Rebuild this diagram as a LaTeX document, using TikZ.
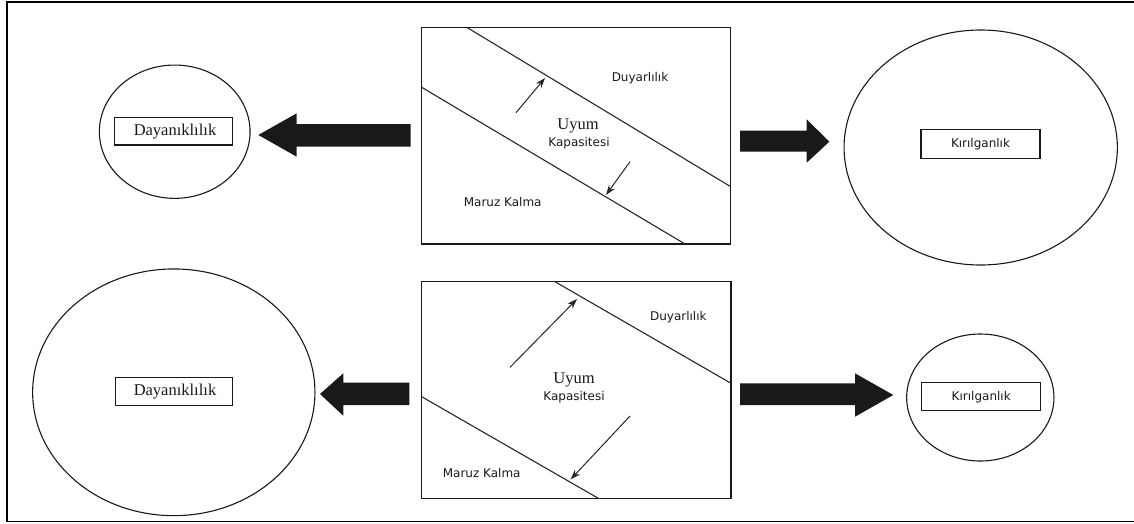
\documentclass[tikz,border=0pt]{standalone}
\usepackage{fontspec}
\setmainfont{Liberation Serif}
\newfontfamily\vsans{DejaVu Sans}
\usetikzlibrary{shapes.geometric,arrows.meta}
\tikzset{
  oval/.style={ellipse, draw=black!90, line width=1.1pt, inner sep=0pt},
  lbl/.style={rectangle, draw=black!90, line width=1.1pt, inner sep=0pt},
  frm/.style={draw=black!90, line width=1.5pt},
  band/.style={draw=black!85, line width=1.1pt},
  thin/.style={draw=black!85, line width=1pt, -{Stealth[length=10pt,width=7pt]}},
  blk/.style={fill=black!90, draw=none},
  sanstxt/.style={font=\vsans\fontsize{12}{14}\selectfont, text=black!90, inner sep=0pt},
  seriftxt/.style={font=\fontsize{16.5}{18}\selectfont, text=black!90, inner sep=0pt},
  lbltxt/.style={font=\fontsize{16.5}{18}\selectfont, text=black!90, inner sep=0pt}
}
\begin{document}
\begin{tikzpicture}[x=1pt,y=-1pt]
\useasboundingbox (0,0) rectangle (1134,523);
% outer frame
\draw[line width=1.6pt] (1136,2) -- (7,2) -- (7,521.5) -- (1136,521.5);

% ===== top row =====
\draw[frm] (421.7,27.3) rectangle (730.7,244);
\coordinate (t1a) at (466.7,27.3); \coordinate (t1b) at (730.7,186.7);
\coordinate (t2a) at (421.7,87.3); \coordinate (t2b) at (685,244);
\draw[band] (t1a) -- (t1b);
\draw[band] (t2a) -- (t2b);
\coordinate (tu1) at (516,112.7); \coordinate (tu2) at (545,78);
\coordinate (td1) at (630,161.7); \coordinate (td2) at (606,195);
\draw[thin] (tu1) -- (tu2);
\draw[thin] (td1) -- (td2);
\node[sanstxt] (tduy) at (640,77.7) {Duyarlılık};
\node[seriftxt] (tuy) at (578,126) {Uyum};
\node[sanstxt] (tkap) at (579,142.7) {Kapasitesi};
\node[sanstxt] (tmar) at (502.7,201.7) {Maruz Kalma};

\node[oval, minimum width=150.7pt, minimum height=133.3pt] (tlE) at (174.7,131.7) {};
\node[lbl, minimum width=118.4pt, minimum height=27.3pt] (tlR) at (173.5,131.3) {};
\node[lbltxt] (tlT) at (175,131.3) {Dayanıklılık};

\node[oval, minimum width=273.3pt, minimum height=235pt] (trE) at (980.7,147.5) {};
\node[lbl, minimum width=119pt, minimum height=29pt] (trR) at (980.5,143.8) {};
\node[sanstxt] (trT) at (980.5,143.8) {Kırılganlık};

\fill[blk] (258.3,135) -- (296.7,113.3) -- (296.7,124) -- (410.7,124) -- (410.7,146.7) -- (296.7,146.7) -- (296.7,156.7) -- cycle;
\fill[blk] (829.3,141.7) -- (806.7,119.3) -- (806.7,130.5) -- (740,130.5) -- (740,151.7) -- (806.7,151.7) -- (806.7,162.7) -- cycle;

% ===== bottom row =====
\draw[frm] (421.7,281.7) rectangle (731,498.3);
\coordinate (b1a) at (555,281.7); \coordinate (b1b) at (731,383.3);
\coordinate (b2a) at (421.7,396.7); \coordinate (b2b) at (598.3,498.3);
\draw[band] (b1a) -- (b1b);
\draw[band] (b2a) -- (b2b);
\coordinate (bu1) at (510,367.3); \coordinate (bu2) at (577,299);
\coordinate (bd1) at (630,416); \coordinate (bd2) at (570.7,479.3);
\draw[thin] (bu1) -- (bu2);
\draw[thin] (bd1) -- (bd2);
\node[sanstxt] (bduy) at (678.3,316.7) {Duyarlılık};
\node[seriftxt] (buy) at (574,380) {Uyum};
\node[sanstxt] (bkap) at (574,397.3) {Kapasitesi};
\node[sanstxt] (bmar) at (481.7,472.7) {Maruz Kalma};

\node[oval, minimum width=282.3pt, minimum height=246.7pt] (blE) at (173.8,392.3) {};
\node[lbl, minimum width=116.6pt, minimum height=28pt] (blR) at (174,391.7) {};
\node[lbltxt] (blT) at (175,391.7) {Dayanıklılık};

\node[oval, minimum width=147.3pt, minimum height=127pt] (brE) at (980.3,397.5) {};
\node[lbl, minimum width=119pt, minimum height=28pt] (brR) at (981.2,396.7) {};
\node[sanstxt] (brT) at (981.2,396.7) {Kırılganlık};

\fill[blk] (320,394) -- (343.3,373.3) -- (343.3,382.7) -- (409.3,382.7) -- (409.3,405) -- (343.3,405) -- (343.3,415.7) -- cycle;
\fill[blk] (893.3,395) -- (855,373.3) -- (855,383.3) -- (740,383.3) -- (740,405) -- (855,405) -- (855,416.7) -- cycle;
\end{tikzpicture}
\end{document}
